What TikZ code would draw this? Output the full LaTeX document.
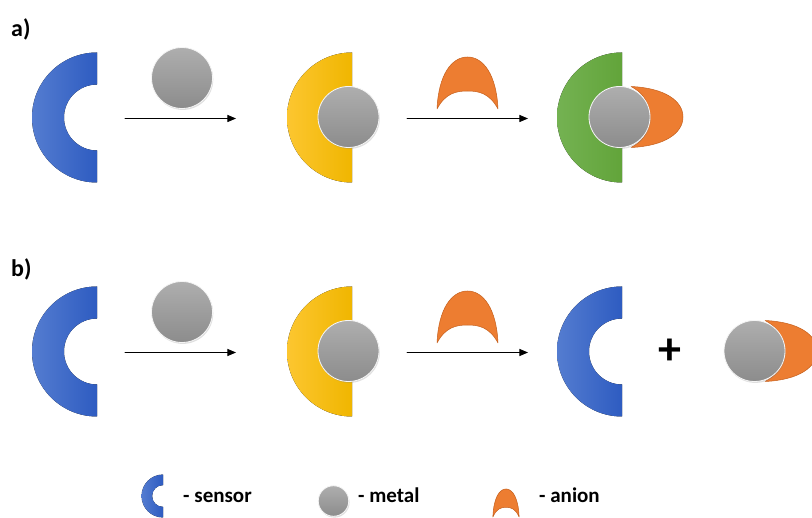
\documentclass[tikz,border=0pt]{standalone}
\usepackage{fontspec}
\setmainfont{Carlito}
\usetikzlibrary{arrows,shadows}
\definecolor{sensorL}{RGB}{84,124,208}
\definecolor{sensorR}{RGB}{46,92,193}
\definecolor{yellowL}{RGB}{252,198,48}
\definecolor{yellowR}{RGB}{240,182,0}
\definecolor{greenL}{RGB}{116,178,82}
\definecolor{greenR}{RGB}{98,164,58}
\definecolor{metalT}{RGB}{174,174,174}
\definecolor{metalB}{RGB}{140,140,140}
\definecolor{anionO}{RGB}{237,125,49}
\definecolor{anionD}{RGB}{197,96,30}
\tikzset{
  pics/sensor/.style={code={
    \fill[left color=sensorL,right color=sensorR] (0,65) arc[start angle=90,end angle=270,radius=65]
      -- (0,-33) arc[start angle=270,end angle=90,radius=33] -- cycle;
  }},
  pics/half/.style={code={
    \fill[left color=#1L,right color=#1R] (0,65) arc[start angle=90,end angle=270,radius=65] -- cycle;
  }},
  pics/metal/.style={code={
    \path[drop shadow={shadow xshift=0.8pt,shadow yshift=-1.4pt,opacity=0.25},
      top color=metalT,bottom color=metalB,draw=white!92!gray,line width=0.8pt] (0,0) circle[radius=30.5];
  }},
  pics/anion/.style={code={
    \filldraw[fill=anionO,draw=anionD,line width=0.5pt] (-30.5,-26) .. controls (-29,8) and (-16,26) .. (0,26)
      .. controls (16,26) and (29,8) .. (30.5,-26) .. controls (22,-10) and (11,-8) .. (0,-8)
      .. controls (-11,-8) and (-22,-10) .. (-30.5,-26) -- cycle;
  }},
  lbl/.style={font=\fontsize{24}{28}\selectfont\bfseries,inner sep=0pt},
  key/.style={font=\fontsize{21}{25}\selectfont\bfseries,inner sep=0pt,anchor=base west}
}
\begin{document}
\begin{tikzpicture}[line cap=round,line join=round,>=triangle 45,x=1pt,y=1pt]
\useasboundingbox (0,0) rectangle (812,-518);
\clip (0,0) rectangle (812,-518);
%% row a
\node[lbl,anchor=west] (laba) at (11,-29) {a)};
\pic at (97,-117.5) {sensor};
\pic at (182,-78) {metal};
\coordinate (a1s) at (125,-118.5);
\coordinate (a1e) at (236,-118.5);
\draw[->,color=black,line width=1pt] (a1s) -- (a1e);
\pic at (352,-117.5) {half=yellow};
\pic at (348.5,-117) {metal};
\pic at (467.5,-83) {anion};
\coordinate (a2s) at (407,-118.5);
\coordinate (a2e) at (528,-118.5);
\draw[->,color=black,line width=1pt] (a2s) -- (a2e);
\pic at (622,-117.5) {half=green};
\pic[rotate=-90] at (657,-117) {anion};
\pic at (619.5,-117) {metal};
%% row b
\node[lbl,anchor=west] (labb) at (11,-269) {b)};
\pic at (97,-351.5) {sensor};
\pic at (182,-312) {metal};
\coordinate (b1s) at (125,-352.5);
\coordinate (b1e) at (236,-352.5);
\draw[->,color=black,line width=1pt] (b1s) -- (b1e);
\pic at (352,-351.5) {half=yellow};
\pic at (348.5,-351) {metal};
\pic at (467.5,-317) {anion};
\coordinate (b2s) at (407,-352.5);
\coordinate (b2e) at (528,-352.5);
\draw[->,color=black,line width=1pt] (b2s) -- (b2e);
\pic at (622,-351.5) {sensor};
\node[font=\fontsize{46}{46}\selectfont\bfseries,inner sep=0pt] (plus) at (670,-352) {+};
\pic[rotate=-90] at (791,-351) {anion};
\pic at (754.5,-351) {metal};
%% legend
\pic[scale=0.33] at (163,-496) {sensor};
\node[key] (ksensor) at (183,-503) {- sensor};
\pic[scale=0.5] at (333.5,-501) {metal};
\node[key] (kmetal) at (358,-503) {- metal};
\pic[xscale=0.43,yscale=0.54] at (506,-503) {anion};
\node[key] (kanion) at (539,-503) {- anion};
\end{tikzpicture}
\end{document}
